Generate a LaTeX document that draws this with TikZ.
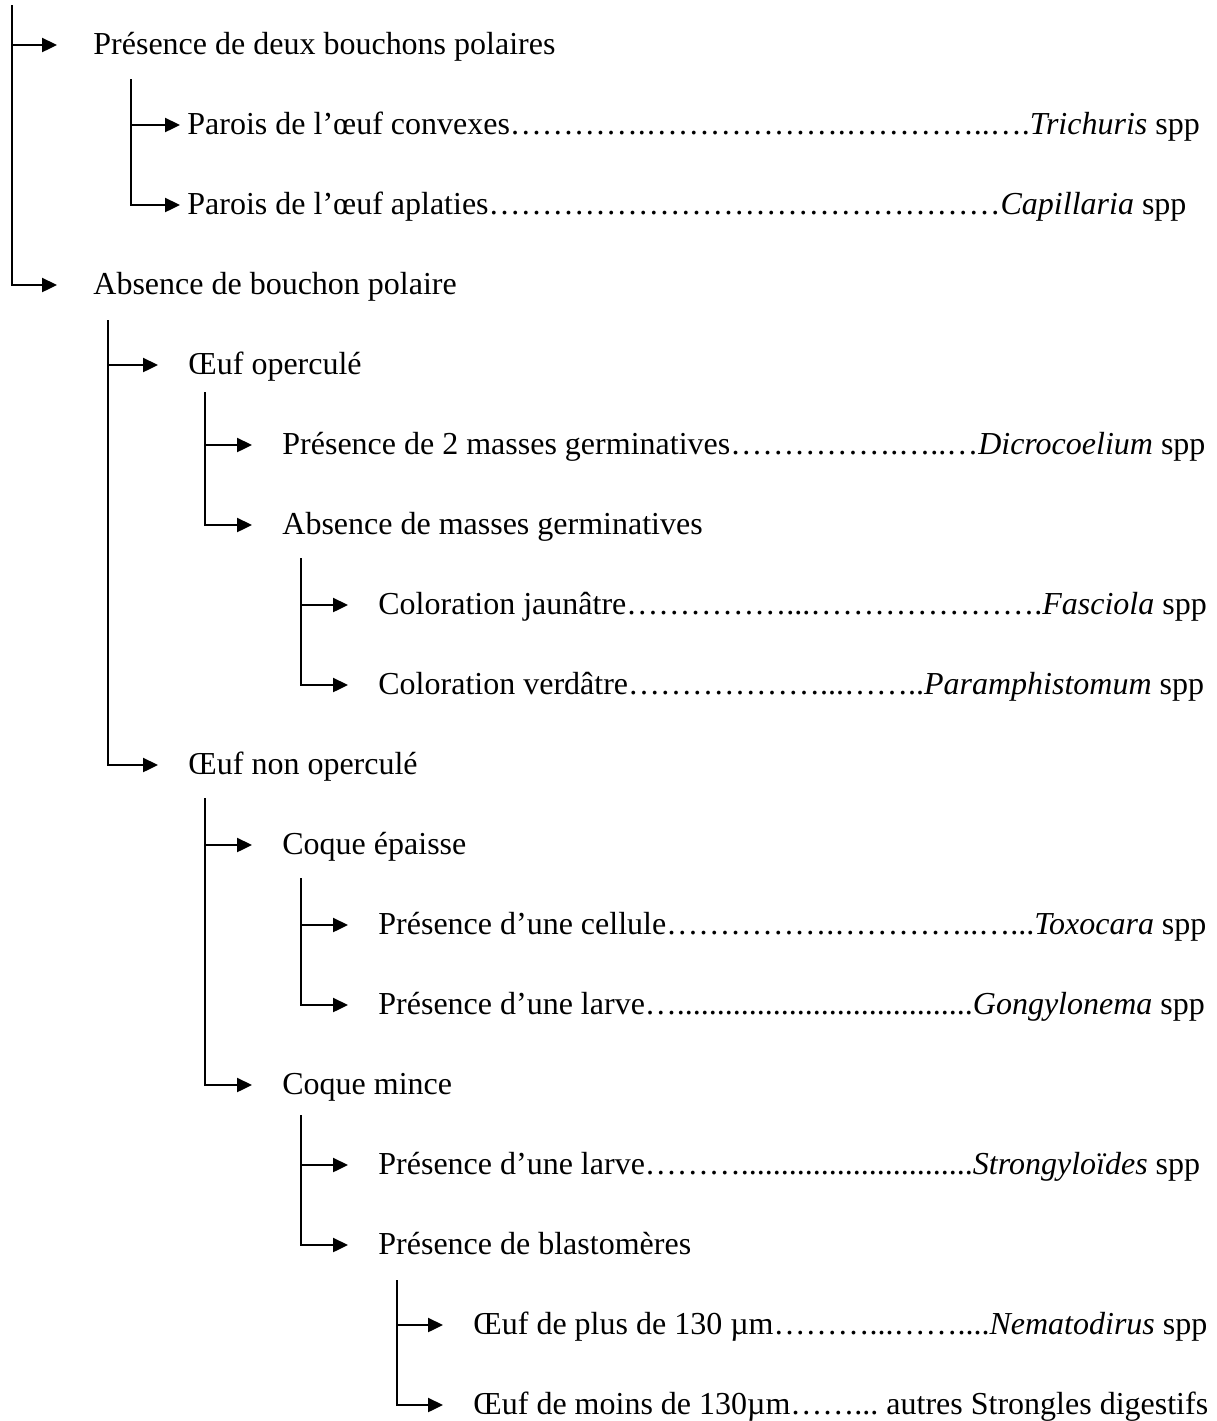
\documentclass[tikz,border=0pt]{standalone}
\usepackage{fontspec}
\setmainfont{Liberation Serif}
\usetikzlibrary{arrows.meta}
\frenchspacing
\tikzset{
  txt/.style  ={anchor=west,inner ysep=0pt,text height=11.5pt,text depth=1.6pt,
                font=\fontsize{16pt}{19pt}\selectfont},
  lvl/.style  ={txt,inner xsep=18pt},
  kid/.style  ={txt,inner xsep=15pt},
  leaf/.style ={txt,inner xsep=3.5pt},
  flow/.style ={-{Triangle[length=7.5pt,width=7pt]},line width=1.2pt},
}

\begin{document}
\begin{tikzpicture}[x=0.5pt,y=-0.5pt]
  \useasboundingbox (0,0) rectangle (1217,1421);
  % first split: polar plugs or not
  \coordinate (t0) at (12,5);
  \node[lvl] (pres) at (57,45) {Présence de deux bouchons polaires};
  \node[lvl] (abs) at (57,285) {Absence de bouchon polaire};
  \draw[flow] (t0) |- (pres.west);
  \draw[flow] (t0) |- (abs.west);

  \coordinate (tbo) at (131,79);
  \node[leaf] (conv) at (180,125) {Parois de l’œuf convexes{……}{……}.{……}{……}{……}.{……}{……}..….\textit{Trichuris} spp};
  \node[leaf] (apl) at (180,205) {Parois de l’œuf aplaties{……}{……}{……}{……}{……}{……}{……}{……}\textit{Capillaria} spp};
  \draw[flow] (tbo) |- (conv.west);
  \draw[flow] (tbo) |- (apl.west);

  \coordinate (tab) at (108,320);
  \node[kid] (oper) at (158,365) {Œuf operculé};
  \node[kid] (nonop) at (158,765) {Œuf non operculé};
  \draw[flow] (tab) |- (oper.west);
  \draw[flow] (tab) |- (nonop.west);

  % operculated eggs
  \coordinate (tope) at (205,392);
  \node[kid] (pm2) at (252,445) {Présence de 2 masses germinatives…………….…..…\textit{Dicrocoelium} spp};
  \node[kid] (am) at (252,525) {Absence de masses germinatives};
  \draw[flow] (tope) |- (pm2.west);
  \draw[flow] (tope) |- (am.west);

  \coordinate (tam) at (301,558);
  \node[kid] (cj) at (348,605) {Coloration jaunâtre{……}{……}…...{……}{……}{……}….\textit{Fasciola} spp};
  \node[kid] (cv) at (348,685) {Coloration verdâtre………………...……..\textit{Paramphistomum} spp};
  \draw[flow] (tam) |- (cj.west);
  \draw[flow] (tam) |- (cv.west);

  % non operculated eggs
  \coordinate (tno) at (205,798);
  \node[kid] (cep) at (252,845) {Coque épaisse};
  \node[kid] (cmi) at (252,1085) {Coque mince};
  \draw[flow] (tno) |- (cep.west);
  \draw[flow] (tno) |- (cmi.west);

  \coordinate (tep) at (301,878);
  \node[kid] (pcel) at (348,925) {Présence d’une cellule…………….…………..…...\textit{Toxocara} spp};
  \node[kid] (plar) at (348,1005) {Présence d’une larve…{..........}{..........}{..........}{.......}\textit{Gongylonema} spp};
  \draw[flow] (tep) |- (pcel.west);
  \draw[flow] (tep) |- (plar.west);

  \coordinate (tmi) at (301,1115);
  \node[kid] (pstr) at (348,1165) {Présence d’une larve……….............................\textit{Strongyloïdes} spp};
  \node[kid] (pbl) at (348,1245) {Présence de blastomères};
  \draw[flow] (tmi) |- (pstr.west);
  \draw[flow] (tmi) |- (pbl.west);

  \coordinate (tbl) at (397,1280);
  \node[kid] (onem) at (443,1325) {Œuf de plus de 130 µm………...……....\textit{Nematodirus} spp};
  \node[kid] (oaut) at (443,1405) {Œuf de moins de 130µm……... autres Strongles digestifs};
  \draw[flow] (tbl) |- (onem.west);
  \draw[flow] (tbl) |- (oaut.west);
\end{tikzpicture}
\end{document}
